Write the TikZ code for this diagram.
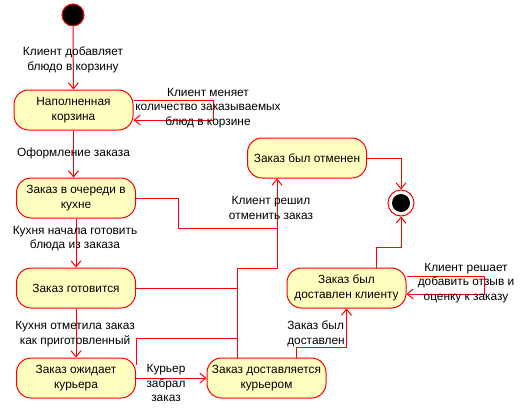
\documentclass[tikz,border=0pt]{standalone}
\usepackage{fontspec}
\setmainfont{Liberation Sans}
\usetikzlibrary{arrows.meta}
\definecolor{stfill}{RGB}{255,255,192}
\begin{document}
\begin{tikzpicture}[x=0.75pt,y=0.75pt,yscale=-1,xscale=1,
  state/.style={draw=red, line width=0.75pt, fill=stfill, rounded corners=11pt, minimum width=89.25pt, minimum height=30pt, inner sep=1pt, align=center, font=\fontsize{8.9}{10.9}\selectfont},
  lbl/.style={inner sep=0.75pt, align=center, font=\fontsize{8.9}{10.9}\selectfont},
  tr/.style={draw=red, line width=0.75pt, -{Straight Barb[length=4.5pt,width=7.5pt]}},
  ln/.style={draw=red, line width=0.75pt}]
\useasboundingbox (0,0) rectangle (527,414);
% states
\node [circle, fill=black, draw=red, line width=0.75pt, minimum size=16.5pt, inner sep=0pt] (init) at (73,15) {};
\node [state] (full) at (73.5,110) {Наполненная\\корзина};
\node [state] (queue) at (76,198) {Заказ в очереди в\\кухне};
\node [state] (cook) at (76,288) {Заказ готовится};
\node [state] (wait) at (76,378) {Заказ ожидает\\курьера};
\node [state] (deliv) at (266.5,378) {Заказ доставляется\\курьером};
\node [state] (done) at (346.5,288) {Заказ был\\доставлен клиенту};
\node [state] (cancel) at (307,158) {Заказ был отменен};
\node [circle, draw=red, line width=0.75pt, fill=white, minimum size=19.5pt, inner sep=0pt] (final) at (401,203) {};
\node [circle, fill=black, minimum size=13.5pt, inner sep=0pt] (finaldot) at (final) {};
% junctions
\coordinate (jA) at (277,228);
\coordinate (jB) at (237,268);
\coordinate (jC) at (237,338);
% transitions
\draw [tr] (init) -- (full);
\draw [tr] ([yshift=-7.5pt]full.east) -- ++(80,0) -- ++(0,20) -- ([yshift=7.5pt]full.east);
\draw [tr] (full) -- (full |- queue.north);
\draw [tr] (queue) -- (cook);
\draw [tr] (cook) -- (wait);
\draw [tr] (wait) -- (deliv);
\draw [ln] (queue.east) -- ++(42,0) |- (jA);
\draw [tr] (jA) -- (jA |- cancel.south);
\draw [ln] (cook.east) -- (cook.east -| jB);
\draw [ln] ([yshift=-9.75pt]wait.east) |- (jC);
\draw [ln] (jB |- deliv.north) -- (jB) -| (jA);
\draw [tr] ([xshift=22.5pt]deliv.north) -- ++(0,-10) -| (done.south);
\draw [tr] ([xshift=22.5pt]done.north) -- ++(0,-20) -| (final.south);
\draw [tr] (cancel.east) -| (final.north);
\draw [tr] ([yshift=-9pt]done.east) -- ++(78,0) -- ++(0,18) -- ([yshift=4.5pt]done.east);
% labels
\node [lbl] (l1) at (73,60) {Клиент добавляет\\блюдо в корзину};
\node [lbl] (l2) at (208,108) {Клиент меняет\\количество заказываемых\\блюд в корзине};
\node [lbl] (l3) at (73.5,153) {Оформление заказа};
\node [lbl] (l4) at (271,208) {Клиент решил\\отменить заказ};
\node [lbl] (l5) at (75,238.5) {Кухня начала готовить\\блюда из заказа};
\node [lbl] (l6) at (75,334) {Кухня отметила заказ\\как приготовленный};
\node [lbl] (l7) at (166,383) {Курьер\\забрал\\заказ};
\node [lbl, align=left, anchor=west] (l8) at (286,334) {Заказ был\\доставлен};
\node [lbl] (l9) at (466,283) {Клиент решает\\добавить отзыв и\\оценку к заказу};
\end{tikzpicture}
\end{document}
